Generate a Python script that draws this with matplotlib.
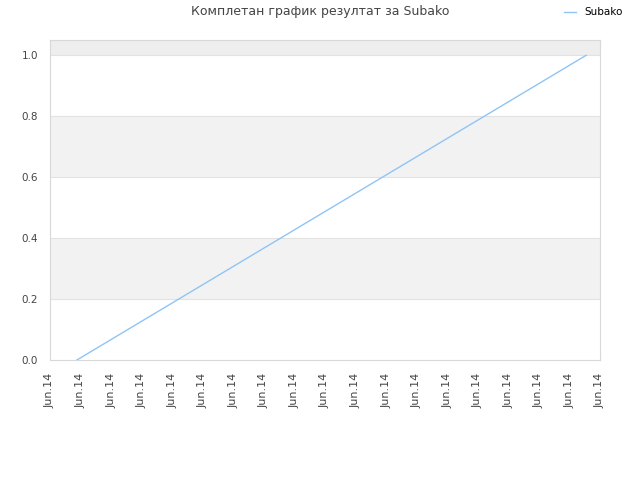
import matplotlib
matplotlib.use("Agg")
import matplotlib.pyplot as plt

title = "Комплетан график резултат за Subako"
series_name = "Subako"
x_ticks = list(range(19))
x_labels = ["Jun.14"] * 19
x_vals = [0.88, 17.55]
y_vals = [0.0, 1.0]
y_ticks = [0.0, 0.2, 0.4, 0.6, 0.8, 1.0]

fig = plt.figure(figsize=(6.4, 4.8), dpi=100)
ax = fig.add_axes([50/640, 1-360/480, 550/640, 320/480])
ax.set_xlim(0, 18)
ax.set_ylim(0, 1.05)

# alternating bands
ax.axhspan(0.2, 0.4, color="#f2f2f2", zorder=0, lw=0)
ax.axhspan(0.6, 0.8, color="#f2f2f2", zorder=0, lw=0)
ax.axhspan(1.0, 1.05, color="#eeeeee", zorder=0, lw=0)
for yv in y_ticks[1:]:
    ax.axhline(yv, color="#e2e2e2", lw=0.8, zorder=1)

ax.plot(x_vals, y_vals, color="#90c4f5", lw=1, label=series_name, zorder=3)

ax.set_xticks(x_ticks)
ax.set_xticklabels(x_labels, rotation=90, fontsize=8, color="#444444")
ax.set_yticks(y_ticks)
ax.set_yticklabels([f"{v:.1f}" for v in y_ticks], fontsize=7.5, color="#444444")
ax.tick_params(axis="x", length=0, pad=9)
ax.tick_params(axis="y", length=0, pad=8.5)
for s in ax.spines.values():
    s.set_color("#d8d8d8")
    s.set_linewidth(0.8)

fig.text(0.5, 1-12/480, title, ha="center", va="center", fontsize=9, color="#444444")
fig.legend(loc="upper right", bbox_to_anchor=(630/640, 1.0), frameon=False, fontsize=7.5,
           handlelength=1.2, handletextpad=0.8, borderaxespad=0.3)

fig.savefig("out.png", dpi=100)
